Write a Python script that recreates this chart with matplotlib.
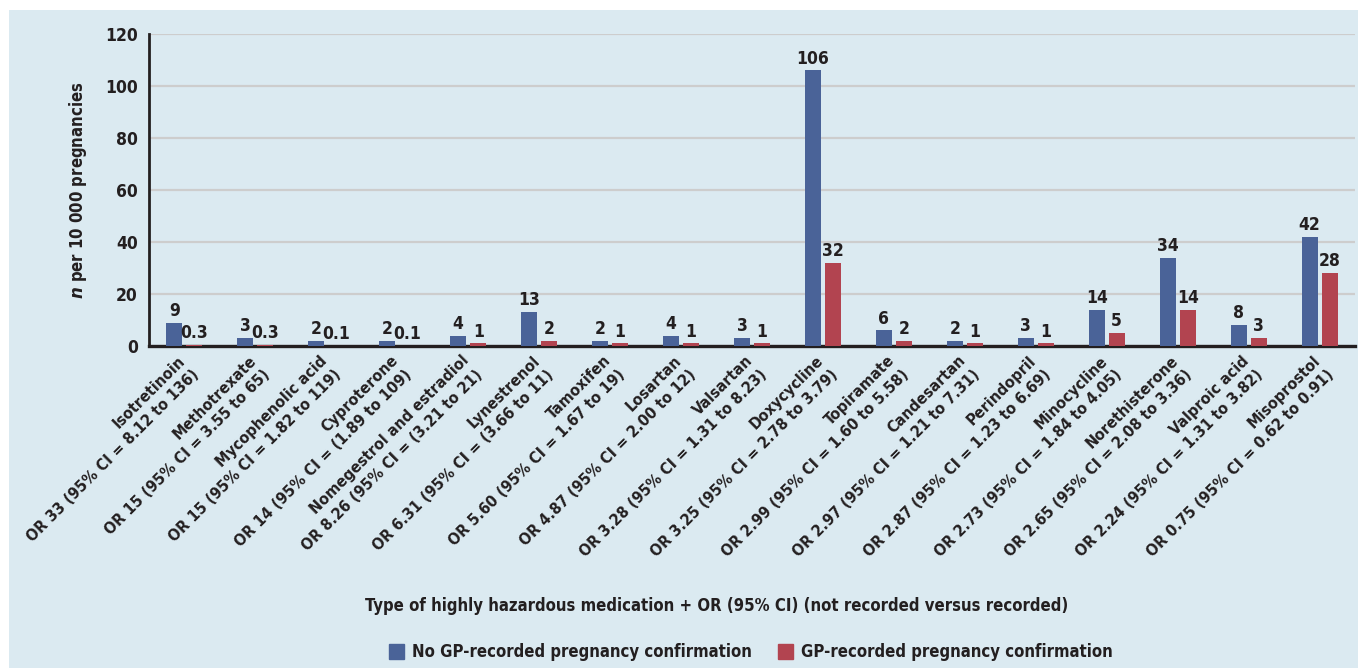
import matplotlib
matplotlib.use("Agg")
import matplotlib.pyplot as plt
import matplotlib.patches as mpatches
import matplotlib.transforms as mtransforms
import numpy as np

# Data
drugs = ["Isotretinoin", "Methotrexate", "Mycophenolic acid", "Cyproterone",
         "Nomegestrol and estradiol", "Lynestrenol", "Tamoxifen", "Losartan",
         "Valsartan", "Doxycycline", "Topiramate", "Candesartan", "Perindopril",
         "Minocycline", "Norethisterone", "Valproic acid", "Misoprostol"]
odds_ratios = ["OR 33 (95% CI = 8.12 to 136)", "OR 15 (95% CI = 3.55 to 65)",
               "OR 15 (95% CI = 1.82 to 119)", "OR 14 (95% CI = (1.89 to 109)",
               "OR 8.26 (95% CI = (3.21 to 21)", "OR 6.31 (95% CI = (3.66 to 11)",
               "OR 5.60 (95% CI = 1.67 to 19)", "OR 4.87 (95% CI = 2.00 to 12)",
               "OR 3.28 (95% CI = 1.31 to 8.23)", "OR 3.25 (95% CI = 2.78 to 3.79)",
               "OR 2.99 (95% CI = 1.60 to 5.58)", "OR 2.97 (95% CI = 1.21 to 7.31)",
               "OR 2.87 (95% CI = 1.23 to 6.69)", "OR 2.73 (95% CI = 1.84 to 4.05)",
               "OR 2.65 (95% CI = 2.08 to 3.36)", "OR 2.24 (95% CI = 1.31 to 3.82)",
               "OR 0.75 (95% CI = 0.62 to 0.91)"]
not_recorded = [9, 3, 2, 2, 4, 13, 2, 4, 3, 106, 6, 2, 3, 14, 34, 8, 42]
recorded = [0.3, 0.3, 0.1, 0.1, 1, 2, 1, 1, 1, 32, 2, 1, 1, 5, 14, 3, 28]
y_ticks = [0, 20, 40, 60, 80, 100, 120]
series_names = ["No GP-recorded pregnancy confirmation",
                "GP-recorded pregnancy confirmation"]

BLUE = "#4a6398"
RED = "#b24450"
INK = "#231f20"
BG = "#dbeaf1"
FONT = dict(family="DejaVu Sans", stretch="condensed", weight="bold")

plt.rcParams["mathtext.fontset"] = "custom"
plt.rcParams["mathtext.bfit"] = "DejaVu Sans:italic:bold"

W, H = 1358, 668
fig = plt.figure(figsize=(W / 100, H / 100), dpi=100, facecolor="white")
fig.patches.append(mpatches.Rectangle((9 / W, 0), 1 - 9 / W, 1 - 10 / H,
                                      transform=fig.transFigure,
                                      facecolor=BG, edgecolor="none", zorder=-10))

ax = fig.add_axes([149 / W, 1 - 346 / H, (1355 - 149) / W, (346 - 34) / H])
ax.set_facecolor("none")

x = np.arange(len(drugs))
bw = 0.226
off = 0.141
b1 = ax.bar(x - off, not_recorded, bw, color=BLUE, zorder=3)
b2 = ax.bar(x + off, recorded, bw, color=RED, zorder=3)

for cont, vals in ((b1, not_recorded), (b2, recorded)):
    ax.bar_label(cont, labels=[f"{v:g}" for v in vals], padding=2,
                 color=INK, fontsize=12.5, **FONT)

ax.set_xlim(-0.5, len(drugs) - 0.5)
ax.set_ylim(0, 120)
ax.set_yticks(y_ticks)
ax.set_yticklabels([str(t) for t in y_ticks], color=INK, fontsize=12.5, **FONT)
ax.tick_params(axis="y", length=0, pad=8)
ax.yaxis.grid(True, color="#cdcdcd", lw=1.6)
ax.set_axisbelow(True)

ax.set_xticks(x)
ax.set_xticklabels([f"{d}\n{o}" for d, o in zip(drugs, odds_ratios)],
                   rotation=45, ha="right", va="top", rotation_mode="anchor",
                   color=INK, fontsize=11.5, linespacing=1.4, **FONT)
ax.tick_params(axis="x", length=0, pad=5)
shift = mtransforms.ScaledTranslation(-7 / 100, 0, fig.dpi_scale_trans)
for lab in ax.get_xticklabels():
    lab.set_transform(lab.get_transform() + shift)

for s in ("top", "right"):
    ax.spines[s].set_visible(False)
ax.spines["left"].set_color(INK)
ax.spines["left"].set_linewidth(2)
ax.spines["bottom"].set_color(INK)
ax.spines["bottom"].set_linewidth(2.4)

fig.text(78 / W, 1 - 190 / H, r"$\mathbfit{n}$ per 10 000 pregnancies",
         rotation=90, ha="center", va="center", color=INK, fontsize=12, **FONT)
fig.text(717 / W, 1 - 606 / H,
         "Type of highly hazardous medication + OR (95% CI) (not recorded versus recorded)",
         ha="center", va="center", color=INK, fontsize=12, **FONT)

handles = [mpatches.Patch(color=BLUE), mpatches.Patch(color=RED)]
leg = fig.legend(handles, series_names, loc="center", ncol=2,
                 bbox_to_anchor=(751 / W, 1 - 652 / H), frameon=False,
                 handlelength=0.85, handleheight=1.0, handletextpad=0.5,
                 columnspacing=1.6, prop=dict(size=12, **FONT))
for t in leg.get_texts():
    t.set_color(INK)

fig.savefig("out.png", dpi=100, facecolor="white")
